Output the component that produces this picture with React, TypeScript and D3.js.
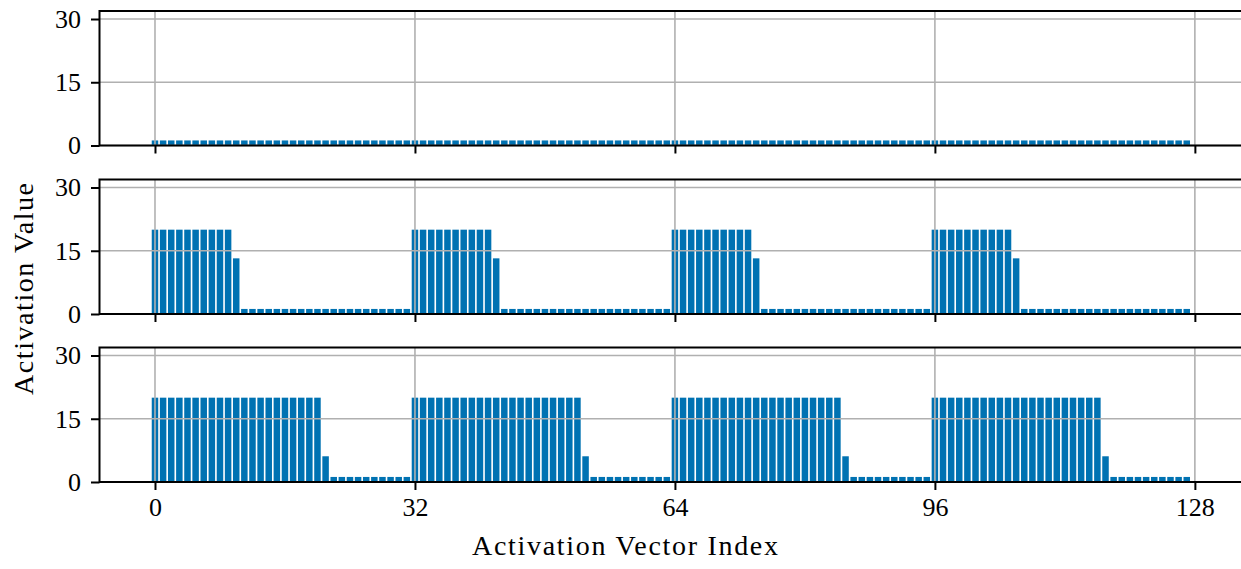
import { useEffect, useRef } from 'react';
import * as d3 from 'd3';

// one row per 32-wide block of the activation vector
const topValues: number[] = [
  1.2, 1.2, 1.2, 1.2, 1.2, 1.2, 1.2, 1.2, 1.2, 1.2, 1.2, 1.2, 1.2, 1.2, 1.2, 1.2, 1.2, 1.2, 1.2, 1.2, 1.2, 1.2, 1.2, 1.2, 1.2, 1.2, 1.2, 1.2, 1.2, 1.2, 1.2, 1.2,
  1.2, 1.2, 1.2, 1.2, 1.2, 1.2, 1.2, 1.2, 1.2, 1.2, 1.2, 1.2, 1.2, 1.2, 1.2, 1.2, 1.2, 1.2, 1.2, 1.2, 1.2, 1.2, 1.2, 1.2, 1.2, 1.2, 1.2, 1.2, 1.2, 1.2, 1.2, 1.2,
  1.2, 1.2, 1.2, 1.2, 1.2, 1.2, 1.2, 1.2, 1.2, 1.2, 1.2, 1.2, 1.2, 1.2, 1.2, 1.2, 1.2, 1.2, 1.2, 1.2, 1.2, 1.2, 1.2, 1.2, 1.2, 1.2, 1.2, 1.2, 1.2, 1.2, 1.2, 1.2,
  1.2, 1.2, 1.2, 1.2, 1.2, 1.2, 1.2, 1.2, 1.2, 1.2, 1.2, 1.2, 1.2, 1.2, 1.2, 1.2, 1.2, 1.2, 1.2, 1.2, 1.2, 1.2, 1.2, 1.2, 1.2, 1.2, 1.2, 1.2, 1.2, 1.2, 1.2, 1.2,
];

const middleValues: number[] = [
  20, 20, 20, 20, 20, 20, 20, 20, 20, 20, 13.2, 1.2, 1.2, 1.2, 1.2, 1.2, 1.2, 1.2, 1.2, 1.2, 1.2, 1.2, 1.2, 1.2, 1.2, 1.2, 1.2, 1.2, 1.2, 1.2, 1.2, 1.2,
  20, 20, 20, 20, 20, 20, 20, 20, 20, 20, 13.2, 1.2, 1.2, 1.2, 1.2, 1.2, 1.2, 1.2, 1.2, 1.2, 1.2, 1.2, 1.2, 1.2, 1.2, 1.2, 1.2, 1.2, 1.2, 1.2, 1.2, 1.2,
  20, 20, 20, 20, 20, 20, 20, 20, 20, 20, 13.2, 1.2, 1.2, 1.2, 1.2, 1.2, 1.2, 1.2, 1.2, 1.2, 1.2, 1.2, 1.2, 1.2, 1.2, 1.2, 1.2, 1.2, 1.2, 1.2, 1.2, 1.2,
  20, 20, 20, 20, 20, 20, 20, 20, 20, 20, 13.2, 1.2, 1.2, 1.2, 1.2, 1.2, 1.2, 1.2, 1.2, 1.2, 1.2, 1.2, 1.2, 1.2, 1.2, 1.2, 1.2, 1.2, 1.2, 1.2, 1.2, 1.2,
];

const bottomValues: number[] = [
  20, 20, 20, 20, 20, 20, 20, 20, 20, 20, 20, 20, 20, 20, 20, 20, 20, 20, 20, 20, 20, 6.1, 1.2, 1.2, 1.2, 1.2, 1.2, 1.2, 1.2, 1.2, 1.2, 1.2,
  20, 20, 20, 20, 20, 20, 20, 20, 20, 20, 20, 20, 20, 20, 20, 20, 20, 20, 20, 20, 20, 6.1, 1.2, 1.2, 1.2, 1.2, 1.2, 1.2, 1.2, 1.2, 1.2, 1.2,
  20, 20, 20, 20, 20, 20, 20, 20, 20, 20, 20, 20, 20, 20, 20, 20, 20, 20, 20, 20, 20, 6.1, 1.2, 1.2, 1.2, 1.2, 1.2, 1.2, 1.2, 1.2, 1.2, 1.2,
  20, 20, 20, 20, 20, 20, 20, 20, 20, 20, 20, 20, 20, 20, 20, 20, 20, 20, 20, 20, 20, 6.1, 1.2, 1.2, 1.2, 1.2, 1.2, 1.2, 1.2, 1.2, 1.2, 1.2,
];

const xTicks = [0, 32, 64, 96, 128];
const yTicks = [0, 15, 30];

const width = 1241;
const height = 569;
const font = '"Liberation Serif", "Times New Roman", serif';

export default function App() {
  const svgRef = useRef<SVGSVGElement>(null);

  useEffect(() => {
    if (!svgRef.current) return;
    const svg = d3.select(svgRef.current);
    svg.selectAll('*').remove();

    const left = 99.5;
    const right = 1245;
    const panelTops = [11, 179.5, 347.5];
    const panelHeight = 134.5;
    const series = [topValues, middleValues, bottomValues];

    const x = d3.scaleLinear().domain([-6.83, 134.17]).range([left, right]);

    series.forEach((values, p) => {
      const top = panelTops[p];
      const bottom = top + panelHeight;
      const y = d3.scaleLinear().domain([0, 31.9]).range([bottom, top]);
      const g = svg.append('g');

      // Bars
      g.selectAll('rect.bar')
        .data(values)
        .join('rect')
        .attr('class', 'bar')
        .attr('x', (_, i) => x(i - 0.4))
        .attr('width', x(0.8) - x(0))
        .attr('y', (d) => y(d))
        .attr('height', (d) => y(0) - y(d))
        .attr('fill', '#0072B2');

      // Grid (drawn over the bars, as in the original)
      g.selectAll('line.hgrid')
        .data(yTicks)
        .join('line')
        .attr('x1', left)
        .attr('x2', right)
        .attr('y1', (d) => y(d))
        .attr('y2', (d) => y(d))
        .attr('stroke', '#b0b0b0')
        .attr('stroke-width', 1.6);
      g.selectAll('line.vgrid')
        .data(xTicks)
        .join('line')
        .attr('x1', (d) => x(d))
        .attr('x2', (d) => x(d))
        .attr('y1', top)
        .attr('y2', bottom)
        .attr('stroke', '#b0b0b0')
        .attr('stroke-width', 1.6);

      // Spines
      g.append('rect')
        .attr('x', left)
        .attr('y', top)
        .attr('width', right - left)
        .attr('height', panelHeight)
        .attr('fill', 'none')
        .attr('stroke', '#000')
        .attr('stroke-width', 2);

      // Y axis
      const yAxis = g
        .append('g')
        .attr('transform', `translate(${left},0)`)
        .call(d3.axisLeft(y).tickValues(yTicks).tickSize(8.5).tickPadding(10).tickSizeOuter(0));
      yAxis.select('.domain').remove();
      yAxis.selectAll('line').attr('stroke', '#000').attr('stroke-width', 2);
      yAxis
        .selectAll('text')
        .attr('font-family', font)
        .attr('font-size', 26)
        .attr('fill', '#000');

      // X axis
      const xAxis = g
        .append('g')
        .attr('transform', `translate(0,${bottom})`)
        .call(
          d3
            .axisBottom(x)
            .tickValues(xTicks)
            .tickSize(8)
            .tickPadding(8)
            .tickSizeOuter(0)
            .tickFormat((d) => (p === 2 ? `${d}` : ''))
        );
      xAxis.select('.domain').remove();
      xAxis.selectAll('line').attr('stroke', '#000').attr('stroke-width', 2);
      xAxis
        .selectAll('text')
        .attr('font-family', font)
        .attr('font-size', 26)
        .attr('fill', '#000');
    });

    svg
      .append('text')
      .attr('x', 625)
      .attr('y', 555)
      .attr('text-anchor', 'middle')
      .attr('font-family', font)
      .attr('font-size', 28)
      .attr('textLength', 306)
      .attr('lengthAdjust', 'spacing')
      .text('Activation Vector Index');

    svg
      .append('text')
      .attr('transform', 'translate(33,289) rotate(-90)')
      .attr('text-anchor', 'middle')
      .attr('font-family', font)
      .attr('font-size', 28)
      .attr('textLength', 212)
      .attr('lengthAdjust', 'spacing')
      .text('Activation Value');
  }, []);

  return (
    <svg
      ref={svgRef}
      width={width}
      height={height}
      style={{ position: 'absolute', left: 0, top: 0, background: '#fff' }}
    />
  );
}
